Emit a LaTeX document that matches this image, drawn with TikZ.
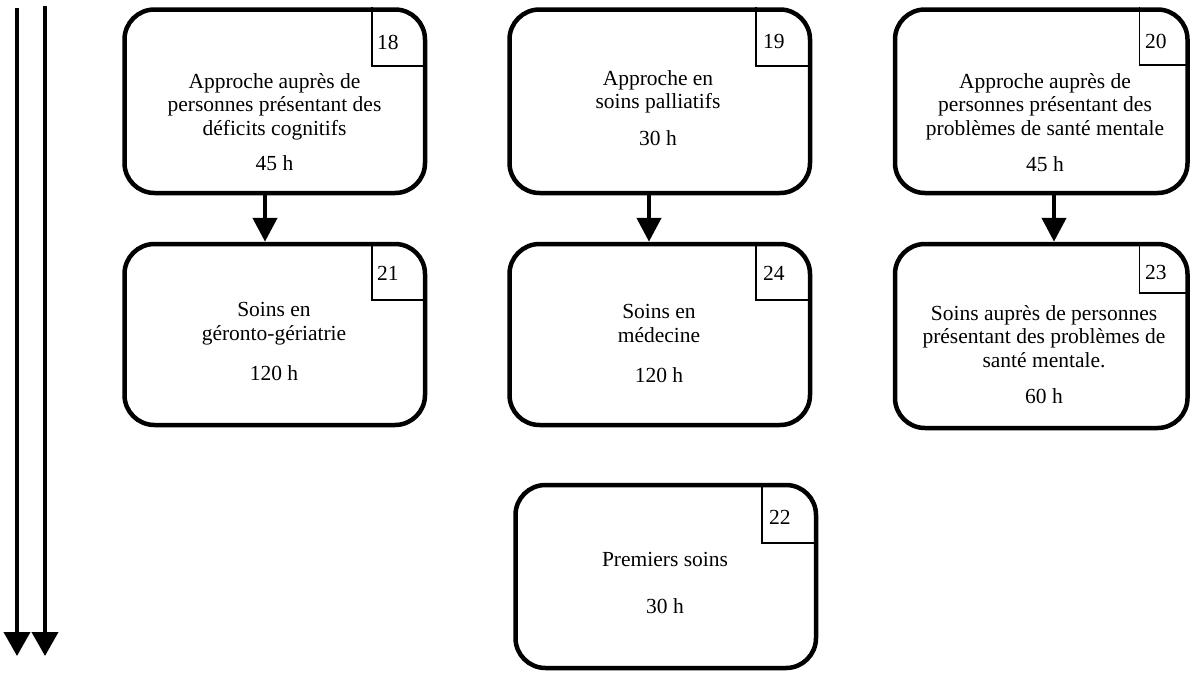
\documentclass[tikz,border=0pt]{standalone}
\usepackage{fontspec}
\setmainfont{Liberation Serif}
\usetikzlibrary{arrows.meta}
\tikzset{
  box/.style={draw, line width=4.5pt, rounded corners=30pt, inner sep=0pt, fill=white},
  numline/.style={draw, line width=1.3pt},
  conn/.style={line width=4.5pt, -{Triangle[length=24pt,width=24pt]}},
  side/.style={line width=4pt, -{Triangle[length=24pt,width=26pt]}},
  txt/.style={anchor=base, inner sep=0pt, font=\fontsize{21.5}{23.5}\selectfont},
  num/.style={anchor=base west, inner sep=0pt, font=\fontsize{21.5}{23.5}\selectfont}
}
\begin{document}
\begin{tikzpicture}[x=1pt,y=-1pt]
\useasboundingbox (0,0) rectangle (1191,672);
% boxes
\node[box, minimum width=300.5pt, minimum height=183.5pt] (b18) at (274.75,101.25) {};
\node[box, minimum width=300.5pt, minimum height=183.5pt] (b19) at (659.75,101.25) {};
\node[box, minimum width=292.5pt, minimum height=183.5pt] (b20) at (1041.25,101.25) {};
\node[box, minimum width=300.5pt, minimum height=181pt] (b21) at (274.75,334.5) {};
\node[box, minimum width=300.5pt, minimum height=181pt] (b24) at (659.75,334.5) {};
\node[box, minimum width=292.5pt, minimum height=184pt] (b23) at (1041.25,336) {};
\node[box, minimum width=300.5pt, minimum height=183pt] (b22) at (665.75,576.5) {};
% number corners
\coordinate (n18) at (372,66);
\coordinate (n19) at (756,66);
\coordinate (n20) at (1139.5,65);
\coordinate (n21) at (372,300);
\coordinate (n24) at (756,300);
\coordinate (n23) at (1139.5,293);
\coordinate (n22) at (762,543);
\draw[numline] (b18.north -| n18) -- (n18) -- (n18 -| b18.east);
\draw[numline] (b19.north -| n19) -- (n19) -- (n19 -| b19.east);
\draw[numline] (b20.north -| n20) -- (n20) -- (n20 -| b20.east);
\draw[numline] (b21.north -| n21) -- (n21) -- (n21 -| b21.east);
\draw[numline] (b24.north -| n24) -- (n24) -- (n24 -| b24.east);
\draw[numline] (b23.north -| n23) -- (n23) -- (n23 -| b23.east);
\draw[numline] (b22.north -| n22) -- (n22) -- (n22 -| b22.east);
\node[num] (k18) at (377,49) {18};
\node[num] (k19) at (763,48) {19};
\node[num] (k20) at (1145,48) {20};
\node[num] (k21) at (377,280) {21};
\node[num] (k24) at (763,280) {24};
\node[num] (k23) at (1145,279) {23};
\node[num] (k22) at (769,524) {22};
% texts
\node[txt] (t18a) at (274.5,88) {Approche auprès de};
\node[txt] (t18b) at (274.5,111.5) {personnes présentant des};
\node[txt] (t18c) at (274.5,135) {déficits cognitifs};
\node[txt] (t18d) at (274.5,170) {45 h};
\node[txt] (t19a) at (658,85) {Approche en};
\node[txt] (t19b) at (658,108) {soins palliatifs};
\node[txt] (t19c) at (658,145) {30 h};
\node[txt] (t20a) at (1045,88) {Approche auprès de};
\node[txt] (t20b) at (1045,111.5) {personnes présentant des};
\node[txt] (t20c) at (1045,135) {problèmes de santé mentale};
\node[txt] (t20d) at (1045,171) {45 h};
\node[txt] (t21a) at (274,316) {Soins en};
\node[txt] (t21b) at (274,340) {géronto-gériatrie};
\node[txt] (t21c) at (274,380) {120 h};
\node[txt] (t24a) at (659,318) {Soins en};
\node[txt] (t24b) at (659,342) {médecine};
\node[txt] (t24c) at (659,382) {120 h};
\node[txt] (t23a) at (1044,320) {Soins auprès de personnes};
\node[txt] (t23b) at (1044,343.5) {présentant des problèmes de};
\node[txt] (t23c) at (1044,367) {santé mentale.};
\node[txt] (t23d) at (1044,403) {60 h};
\node[txt] (t22a) at (665,566) {Premiers soins};
\node[txt] (t22b) at (665,613) {30 h};
% connectors
\coordinate (a1) at (265,0);
\coordinate (a2) at (649,0);
\coordinate (a3) at (1054,0);
\draw[conn] (b18.south -| a1) -- (b21.north -| a1);
\draw[conn] (b19.south -| a2) -- (b24.north -| a2);
\draw[conn] (b20.south -| a3) -- (b23.north -| a3);
% left arrows
\coordinate (l1s) at (17,8);
\coordinate (l1e) at (17,656);
\coordinate (l2s) at (45,6);
\coordinate (l2e) at (45,656);
\draw[side] (l1s) -- (l1e);
\draw[side] (l2s) -- (l2e);
\end{tikzpicture}
\end{document}
